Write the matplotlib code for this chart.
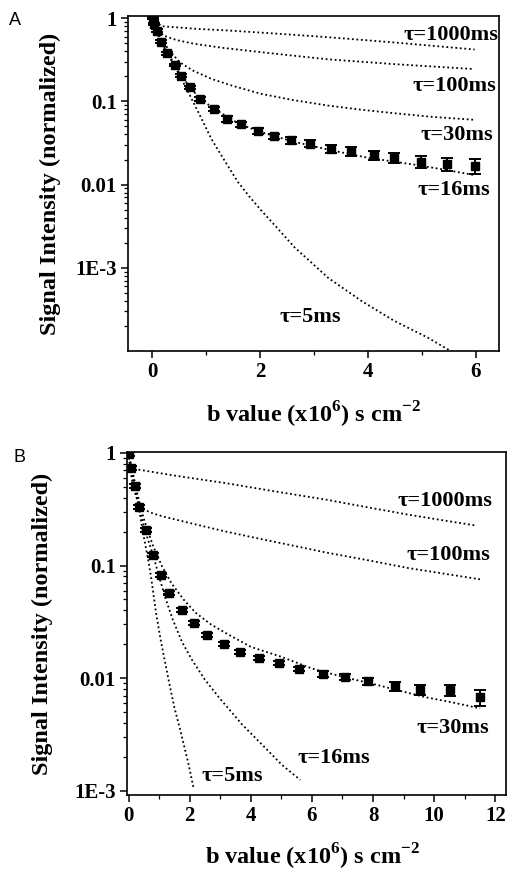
import matplotlib
matplotlib.use("Agg")
import matplotlib.pyplot as plt
import matplotlib.ticker as ticker

# ---- panel A: measured signal (mean +/- error) ----
a_b = [0.02, 0.04, 0.08, 0.155, 0.28, 0.42, 0.53, 0.70, 0.88, 1.15, 1.39,
       1.65, 1.96, 2.26, 2.58, 2.92, 3.31, 3.68, 4.11, 4.49, 4.99, 5.47, 5.99]
a_signal = [1.0, 0.855, 0.71, 0.52, 0.38, 0.274, 0.204, 0.148, 0.107, 0.081,
            0.062, 0.053, 0.044, 0.038, 0.034, 0.031, 0.027, 0.025, 0.0225,
            0.0211, 0.0188, 0.0176, 0.0168]
a_err = [0.03, 0.03, 0.025, 0.02, 0.015, 0.011, 0.008, 0.006, 0.005, 0.004,
         0.005, 0.0042, 0.0035, 0.003, 0.003, 0.003, 0.003, 0.003, 0.003,
         0.003, 0.003, 0.0032, 0.0033]

# panel A model curves
a_t1000_b = [0, 0.17, 0.79, 1.41, 2.33, 3.26, 4.49, 5.98]
a_t1000_y = [1.0, 0.80, 0.745, 0.71, 0.65, 0.59, 0.51, 0.42]
a_t100_b = [0, 0.20, 0.45, 0.79, 1.3, 2.02, 2.6, 3.26, 4.49, 5.94]
a_t100_y = [1.0, 0.62, 0.545, 0.49, 0.44, 0.39, 0.355, 0.32, 0.28, 0.245]
a_t30_b = [0, 0.15, 0.30, 0.51, 0.75, 1.1, 1.5, 2.02, 2.6, 3.26, 3.9, 4.49,
           5.2, 5.98]
a_t30_y = [1.0, 0.60, 0.42, 0.295, 0.235, 0.186, 0.153, 0.123, 0.104, 0.089,
           0.079, 0.072, 0.065, 0.060]
a_t16_b = [0, 0.15, 0.3, 0.5, 0.7, 0.9, 1.2, 1.6, 2.0, 2.6, 3.3, 4.0, 4.9,
           5.5, 6.0]
a_t16_y = [1.0, 0.53, 0.37, 0.22, 0.148, 0.105, 0.078, 0.054, 0.043, 0.033,
           0.026, 0.021, 0.0172, 0.0148, 0.0129]
a_t5_b = [0, 0.15, 0.3, 0.5, 0.67, 0.85, 1.10, 1.35, 1.59, 1.8, 2.02, 2.3,
          2.64, 2.95, 3.26, 3.88, 4.49, 5.11, 5.48, 5.7]
a_t5_y = [1.0, 0.53, 0.36, 0.21, 0.128, 0.075, 0.035, 0.019, 0.0107, 0.0072,
          0.0049, 0.0031, 0.00176, 0.00116, 7.6e-4, 4.0e-4, 2.3e-4, 1.45e-4,
          1.05e-4, 9e-5]

# ---- panel B: measured signal ----
b_b = [0.01, 0.065, 0.21, 0.34, 0.56, 0.80, 1.07, 1.34, 1.75, 2.13, 2.57,
       3.11, 3.66, 4.28, 4.91, 5.59, 6.35, 7.07, 7.85, 8.73, 9.54, 10.52,
       11.50]
b_signal = [0.97, 0.74, 0.51, 0.33, 0.208, 0.125, 0.083, 0.057, 0.040, 0.031,
            0.024, 0.020, 0.0172, 0.0152, 0.0137, 0.0121, 0.0109, 0.0102,
            0.0094, 0.0085, 0.0079, 0.0078, 0.0068]
b_err = [0.04, 0.03, 0.02, 0.013, 0.008, 0.005, 0.0033, 0.0023, 0.0016,
         0.0012, 0.001, 0.0008, 0.0007, 0.0006, 0.0006, 0.0006, 0.0006,
         0.0006, 0.0007, 0.0008, 0.0008, 0.0009, 0.0011]

# panel B model curves
b_t1000_b = [0, 0.05, 0.34, 1.5, 3.17, 4.8, 6.44, 7.8, 9.16, 10.3, 11.4]
b_t1000_y = [1.0, 0.76, 0.71, 0.63, 0.54, 0.455, 0.386, 0.33, 0.283, 0.252,
             0.226]
b_t100_b = [0, 0.1, 0.2, 0.34, 0.5, 0.8, 1.2, 1.7, 2.4, 3.2, 4.2, 5.3, 6.44,
            7.8, 9.16, 10.3, 11.5]
b_t100_y = [1.0, 0.6, 0.45, 0.35, 0.315, 0.29, 0.27, 0.25, 0.225, 0.2, 0.175,
            0.152, 0.131, 0.112, 0.095, 0.085, 0.0755]
b_t30_b = [0, 0.1, 0.3, 0.5, 0.8, 1.1, 1.4, 1.8, 2.2, 2.7, 3.2, 4.0, 5.0,
           6.0, 7.0, 8.0, 9.7, 10.6, 11.5]
b_t30_y = [1.0, 0.75, 0.42, 0.26, 0.15, 0.098, 0.07, 0.05, 0.038, 0.03,
           0.025, 0.019, 0.0155, 0.0122, 0.0103, 0.0089, 0.0068, 0.0061,
           0.0054]
b_t16_b = [0, 0.2, 0.35, 0.55, 0.8, 1.0, 1.2, 1.45, 1.75, 2.08, 2.5, 2.95,
           3.71, 4.48, 5.02, 5.62]
b_t16_y = [1.0, 0.5, 0.32, 0.2, 0.125, 0.08, 0.052, 0.033, 0.021, 0.0145,
           0.0097, 0.0068, 0.0039, 0.0024, 0.0017, 0.00125]
b_t5_b = [0, 0.2, 0.35, 0.5, 0.65, 0.75, 0.9, 1.05, 1.32, 1.5, 1.7, 1.97,
          2.13]
b_t5_y = [1.0, 0.5, 0.31, 0.18, 0.11, 0.075, 0.038, 0.022, 0.0094, 0.0055,
          0.0034, 0.0017, 0.00105]

y_tick_values = [1e-3, 1e-2, 1e-1, 1]
y_tick_labels = ["1E-3", "0.01", "0.1", "1"]

SERIF = "Liberation Serif"
DOTS = (0, (1, 1.5))


def style_axes(ax, xstep):
    """log y axis, outward ticks, bold serif labels"""
    ax.set_yscale("log")
    ax.yaxis.set_major_locator(ticker.FixedLocator(y_tick_values))
    ax.yaxis.set_major_formatter(ticker.FixedFormatter(y_tick_labels))
    ax.yaxis.set_minor_locator(
        ticker.LogLocator(base=10, subs=range(2, 10), numticks=20))
    ax.yaxis.set_minor_formatter(ticker.NullFormatter())
    ax.xaxis.set_major_locator(ticker.MultipleLocator(xstep))
    ax.xaxis.set_minor_locator(ticker.MultipleLocator(xstep / 2))
    ax.tick_params(which="major", direction="out", length=5, width=1.1,
                   labelsize=15, pad=3)
    ax.tick_params(which="minor", direction="out", length=3, width=0.9)
    for lab in ax.get_xticklabels() + ax.get_yticklabels():
        lab.set_fontfamily(SERIF)
        lab.set_fontweight("bold")
    for sp in ax.spines.values():
        sp.set_linewidth(1.2)
    ax.set_ylabel("Signal Intensity (normalized)", fontfamily=SERIF,
                  fontweight="bold", fontsize=17.5)
    ax.set_xlabel("b value (x10$^{\\mathbf{6}}$) s cm$^{\\mathbf{-2}}$",
                  fontfamily=SERIF, fontweight="bold", fontsize=17.5)


def draw_panel(ax, curves, data, labels):
    for bx, by in curves:
        ax.plot(bx, by, color="black", linestyle=DOTS, linewidth=1.3)
    bx, by, err = data
    ax.errorbar(bx, by, yerr=err, fmt="s", color="black", markersize=6,
                capsize=4, elinewidth=1.4, capthick=1.4)
    for x, y, text in labels:
        ax.text(x, y, text, ha="center", va="center", fontsize=16,
                fontfamily=SERIF, fontweight="bold")


def main():
    plt.rcParams["mathtext.fontset"] = "custom"
    plt.rcParams["mathtext.bf"] = "Liberation Serif:bold"
    plt.rcParams["mathtext.rm"] = "Liberation Serif:bold"
    fig = plt.figure(figsize=(5.08, 8.71), dpi=100)

    ax_a = fig.add_axes([0.252, 0.597, 0.730, 0.3846])
    draw_panel(ax_a,
               [(a_t1000_b, a_t1000_y), (a_t100_b, a_t100_y),
                (a_t30_b, a_t30_y), (a_t16_b, a_t16_y), (a_t5_b, a_t5_y)],
               (a_b, a_signal, a_err),
               [(5.54, 0.62, "τ=1000ms"), (5.61, 0.152, "τ=100ms"),
                (5.65, 0.039, "τ=30ms"), (5.59, 0.0085, "τ=16ms"),
                (2.94, 2.57e-4, "τ=5ms")])
    ax_a.set_xlim(-0.45, 6.43)
    ax_a.set_ylim(1e-4, 1.06)
    style_axes(ax_a, 2)
    ax_a.yaxis.set_label_coords(-0.18, 0.5)
    ax_a.xaxis.set_label_coords(0.5, -0.146)

    ax_b = fig.add_axes([0.25, 0.0873, 0.746, 0.3938])
    draw_panel(ax_b,
               [(b_t1000_b, b_t1000_y), (b_t100_b, b_t100_y),
                (b_t30_b, b_t30_y), (b_t16_b, b_t16_y), (b_t5_b, b_t5_y)],
               (b_b, b_signal, b_err),
               [(10.36, 0.373, "τ=1000ms"), (10.46, 0.125, "τ=100ms"),
                (10.62, 0.0036, "τ=30ms"), (6.73, 0.00194, "τ=16ms"),
                (3.40, 0.00136, "τ=5ms")])
    ax_b.set_xlim(-0.05, 12.35)
    ax_b.set_ylim(9.2e-4, 1.02)
    style_axes(ax_b, 2)
    ax_b.yaxis.set_label_coords(-0.195, 0.5)
    ax_b.xaxis.set_label_coords(0.49, -0.137)

    fig.text(0.030, 0.977, "A", fontsize=13, fontfamily="Liberation Sans",
             ha="center", va="center")
    fig.text(0.039, 0.475, "B", fontsize=13, fontfamily="Liberation Sans",
             ha="center", va="center")

    fig.savefig("out.png", dpi=100)


if __name__ == "__main__":
    main()
